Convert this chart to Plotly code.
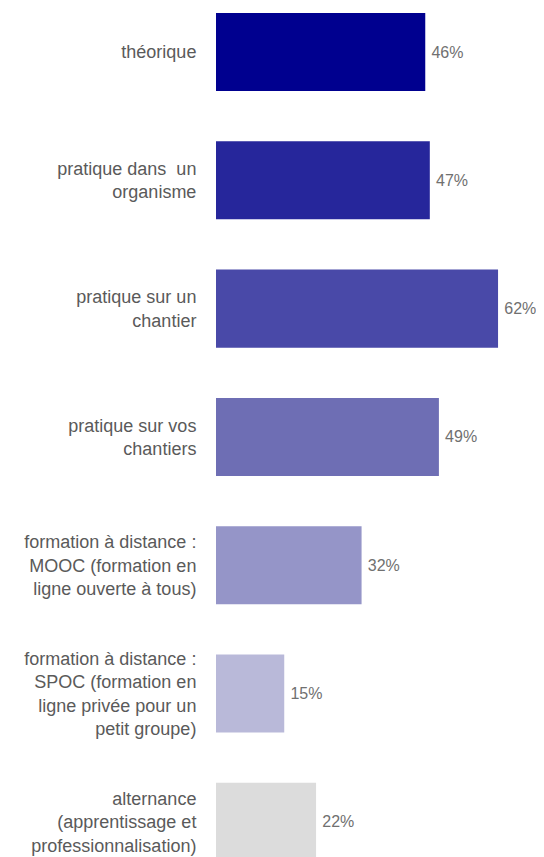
import plotly.graph_objects as go

categories = [
    "théorique",
    "pratique dans  un<br>organisme",
    "pratique sur un<br>chantier",
    "pratique sur vos<br>chantiers",
    "formation à distance :<br>MOOC (formation en<br>ligne ouverte à tous)",
    "formation à distance :<br>SPOC (formation en<br>ligne privée pour un<br>petit groupe)",
    "alternance<br>(apprentissage et<br>professionnalisation)",
]
values = [46, 47, 62, 49, 32, 15, 22]
colors = ["#00008f", "#26269b", "#4949a8", "#6e6eb4", "#9595c8", "#b9b9d9", "#dcdcdc"]

fig = go.Figure(
    go.Bar(
        y=categories,
        x=values,
        orientation="h",
        marker=dict(color=colors, line=dict(width=0)),
        text=[f"\u2009{v}%" for v in values],
        textposition="outside",
        textfont=dict(family="Liberation Sans, Arial", size=16, color="#707070"),
        cliponaxis=False,
    )
)

fig.update_layout(
    width=536,
    height=849,
    margin=dict(l=208, r=0, t=0, b=0),
    paper_bgcolor="white",
    plot_bgcolor="white",
    bargap=0.392,
    showlegend=False,
    font=dict(family="Liberation Sans, Arial", color="#555555"),
)
fig.update_xaxes(
    range=[0, 72.1],
    visible=False,
    showgrid=False,
    zeroline=False,
)
fig.update_yaxes(
    type="category",
    categoryorder="array",
    categoryarray=categories,
    range=[6.274, -0.343],
    showgrid=False,
    zeroline=False,
    showline=False,
    ticks="outside",
    ticklen=15,
    tickcolor="rgba(0,0,0,0)",
    tickfont=dict(family="Liberation Sans, Arial", size=18, color="#5a5a5a"),
    automargin=False,
)

fig.write_html("out.html")
